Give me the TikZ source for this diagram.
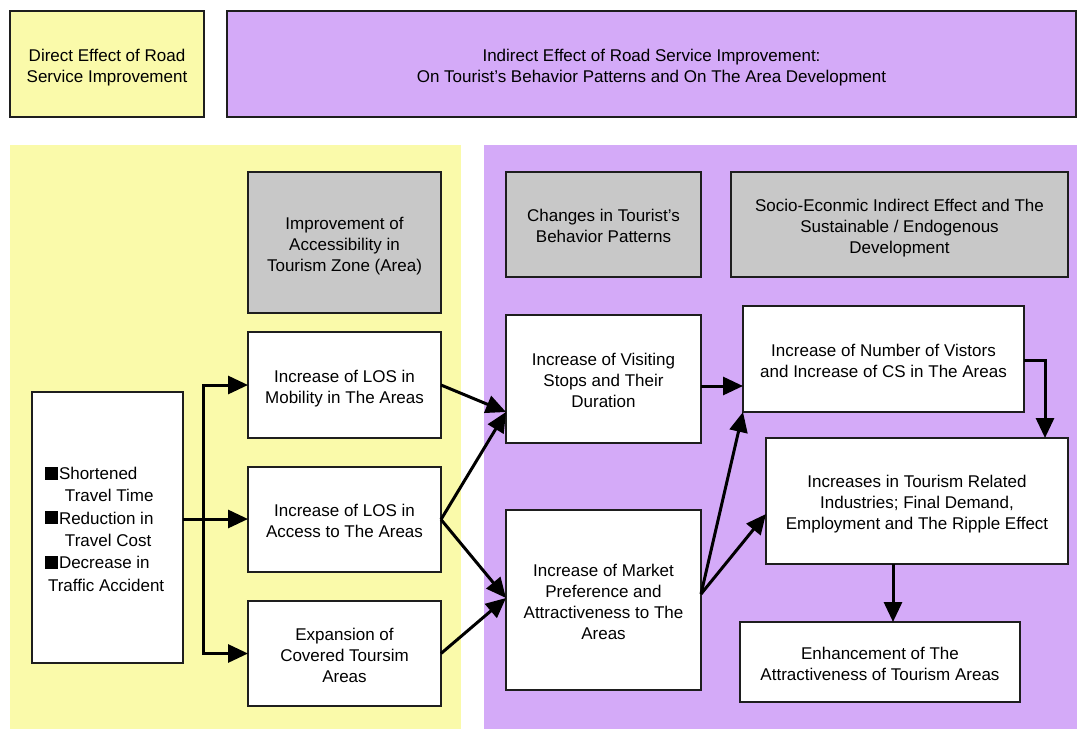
\documentclass[tikz,border=0pt]{standalone}
\usepackage{fontspec}
\setmainfont{Liberation Sans}
\usetikzlibrary{arrows.meta,calc}
\definecolor{yel}{RGB}{250,250,170}
\definecolor{pur}{RGB}{212,170,248}
\definecolor{gry}{RGB}{200,200,200}
\definecolor{edge}{RGB}{30,30,30}
\newcommand{\sq}{\rule{13pt}{13pt}\hspace{1pt}}
\newcommand{\tl}[1]{\raisebox{-3.5pt}[\height][\depth]{\begin{tabular}{@{}c@{}}#1\end{tabular}}}
\begin{document}
\begin{tikzpicture}[x=1pt,y=-1pt,
  every node/.style={font=\fontsize{17}{21}\selectfont, inner sep=0pt, outer sep=0pt, align=center},
  box/.style={draw=edge, line width=1.4pt, fill=white, anchor=north west},
  gbox/.style={box, fill=gry},
  conn/.style={line width=3pt, -{Triangle[length=20pt,width=18pt]}},
  plain/.style={line width=3pt}]
\useasboundingbox (0,0) rectangle (1077,729);
% backgrounds
\fill[yel] (10,145) rectangle (461,729);
\fill[pur] (484,145) rectangle (1077,729);
% headers
\node[box, fill=yel, minimum width=194pt, minimum height=106pt] (hd) at (10,11) {\tl{Direct Effect of Road\\Service Improvement}};
\node[box, fill=pur, minimum width=849pt, minimum height=106pt] (hi) at (227,11) {\tl{Indirect Effect of Road Service Improvement:\\On Tourist’s Behavior Patterns and On The Area Development}};
% grey headings
\node[gbox, minimum width=193pt, minimum height=141pt] (g1) at (248,172) {\tl{Improvement of\\Accessibility in\\Tourism Zone (Area)}};
\node[gbox, minimum width=195pt, minimum height=105pt] (g2) at (506,172) {\tl{Changes in Tourist’s\\Behavior Patterns}};
\node[gbox, minimum width=337pt, minimum height=105pt] (g3) at (731,172) {\tl{Socio-Econmic Indirect Effect and The\\Sustainable / Endogenous\\Development}};
% left source box
\node[box, minimum width=151pt, minimum height=271pt] (src) at (32,392) {};
\node[align=left, anchor=west, font=\fontsize{17}{22.3}\selectfont] (srct) at (45,529)
 {\sq Shortened\\\hspace{20pt}Travel Time\\\sq Reduction in\\\hspace{20pt}Travel Cost\\\sq Decrease in\\\hspace{3pt}Traffic Accident};
% middle column
\node[box, minimum width=193pt, minimum height=106pt] (mob) at (248,332) {\tl{Increase of LOS in\\Mobility in The Areas}};
\node[box, minimum width=193pt, minimum height=105pt] (acc) at (248,467) {\tl{Increase of LOS in\\Access to The Areas}};
\node[box, minimum width=193pt, minimum height=105pt] (exp) at (248,601) {\tl{Expansion of\\Covered Toursim\\Areas}};
% purple column 1
\node[box, minimum width=195pt, minimum height=128pt] (vis) at (506,315) {\tl{Increase of Visiting\\Stops and Their\\Duration}};
\node[box, minimum width=195pt, minimum height=180pt] (mkt) at (506,510) {\tl{Increase of Market\\Preference and\\Attractiveness to The\\Areas}};
% purple column 2
\node[box, minimum width=281pt, minimum height=106pt] (num) at (743,306) {\tl{Increase of Number of Vistors\\and Increase of CS in The Areas}};
\node[box, minimum width=302pt, minimum height=126pt] (ind) at (766,438) {\tl{Increases in Tourism Related\\Industries; Final Demand,\\Employment and The Ripple Effect}};
\node[box, minimum width=280pt, minimum height=80pt] (enh) at (740,622) {\tl{Enhancement of The\\Attractiveness of Tourism Areas}};
% coordinates
\coordinate (bus) at (203,519);
\coordinate (visin) at (506,412);
\coordinate (mktin) at (506,598);
\coordinate (mktout) at (701,594);
\coordinate (visout) at (701,386);
\coordinate (indin) at (766,514);
\coordinate (numout) at (1024,360);
\coordinate (indtop) at (1045,438);
\coordinate (indbot) at (893,564);
% connectors
\draw[plain] (src.east |- bus) -- (bus);
\draw[conn] (bus) -- (acc.west |- bus);
\draw[conn] ($(bus)+(0,1.5)$) |- (mob.west);
\draw[conn] ($(bus)+(0,-1.5)$) |- (exp.west);
\draw[conn] (mob.east) -- (visin);
\draw[conn] (acc.east) -- (visin);
\draw[conn] (acc.east) -- (mktin);
\draw[conn] (exp.east) -- (mktin);
\draw[conn] (visout) -- (visout -| num.west);
\draw[conn] (mktout) -- (num.south west);
\draw[conn] (mktout) -- (indin);
\draw[conn] (numout) -| (indtop);
\draw[conn] (indbot) -- (indbot |- enh.north);
\end{tikzpicture}
\end{document}
